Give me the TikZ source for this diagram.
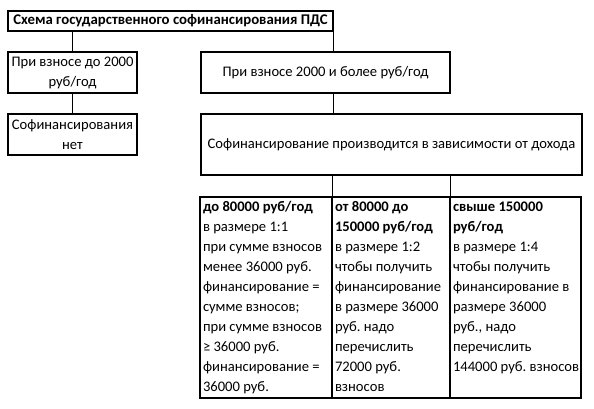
\documentclass[tikz,border=0pt]{standalone}
\usepackage{fontspec}
\setmainfont{Carlito}
\usetikzlibrary{positioning}
\frenchspacing
\begin{document}
\begin{tikzpicture}[x=1pt,y=-1pt,
 box/.style={draw,line width=1.8pt,outer sep=0pt,inner sep=0pt,align=center,font=\fontsize{14.6}{20}\selectfont},
 cell/.style={draw,line width=1.8pt,outer sep=0pt,anchor=north west,inner xsep=3pt,inner ysep=0pt,font=\fontsize{14.6}{20}\selectfont},
 link/.style={line width=0.8pt}]
 \useasboundingbox[fill=white] (0,0) rectangle (594,409);
 \node[box,minimum width=325pt,minimum height=20pt,font=\bfseries\fontsize{14.8}{20}\selectfont] (title) at (170.5,21) {Схема государственного софинансирования ПДС};
 \node[box,minimum width=129pt,minimum height=41pt] (small) at (72.5,72.5) {При взносе до 2000\\руб/год};
 \node[box,minimum width=129pt,minimum height=41pt,below=21pt of small] (nocof) {Софинансирования\\нет};
 \node[box,minimum width=249pt,minimum height=41pt] (big) at (325.5,72.5) {При взносе 2000 и более руб/год};
 \node[box,minimum width=381pt,minimum height=61pt,anchor=north west] (income) at (201,114) {Софинансирование производится в зависимости от дохода};
 \node[cell] (low) at (200,197) {\parbox[c][201pt][t]{126pt}{\raggedright\strut\textbf{до 80000 руб/год}\\в размере 1:1\\при сумме взносов\\менее 36000 руб.\\финансирование =\\сумме взносов;\\при сумме взносов\\≥ 36000 руб.\\финансирование =\\36000 руб.}};
 \node[cell] (mid) at (low.north east) {\parbox[c][201pt][t]{112pt}{\raggedright\strut\textbf{от 80000 до}\\\textbf{150000 руб/год}\\в размере 1:2\\чтобы получить\\финансирование\\в размере 36000\\руб. надо\\перечислить\\72000 руб.\\взносов}};
 \node[cell] (high) at (mid.north east) {\parbox[c][201pt][t]{125pt}{\raggedright\strut\textbf{свыше 150000}\\\textbf{руб/год}\\в размере 1:4\\чтобы получить\\финансирование в\\размере 36000\\руб., надо\\перечислить\\\mbox{144000 руб. взносов}}};
 \draw[link] (title.south -| small.north) -- (small.north);
 \draw[link] (small) -- (nocof);
 \draw[link] (title.south east) -- (title.south east |- big.north);
 \draw[link] (title.south east |- big.south) -- (title.south east |- income.north);
 \draw[link] (low.north east |- income.south) -- (low.north east);
 \draw[link] (mid.north east |- income.south) -- (mid.north east);
\end{tikzpicture}
\end{document}
